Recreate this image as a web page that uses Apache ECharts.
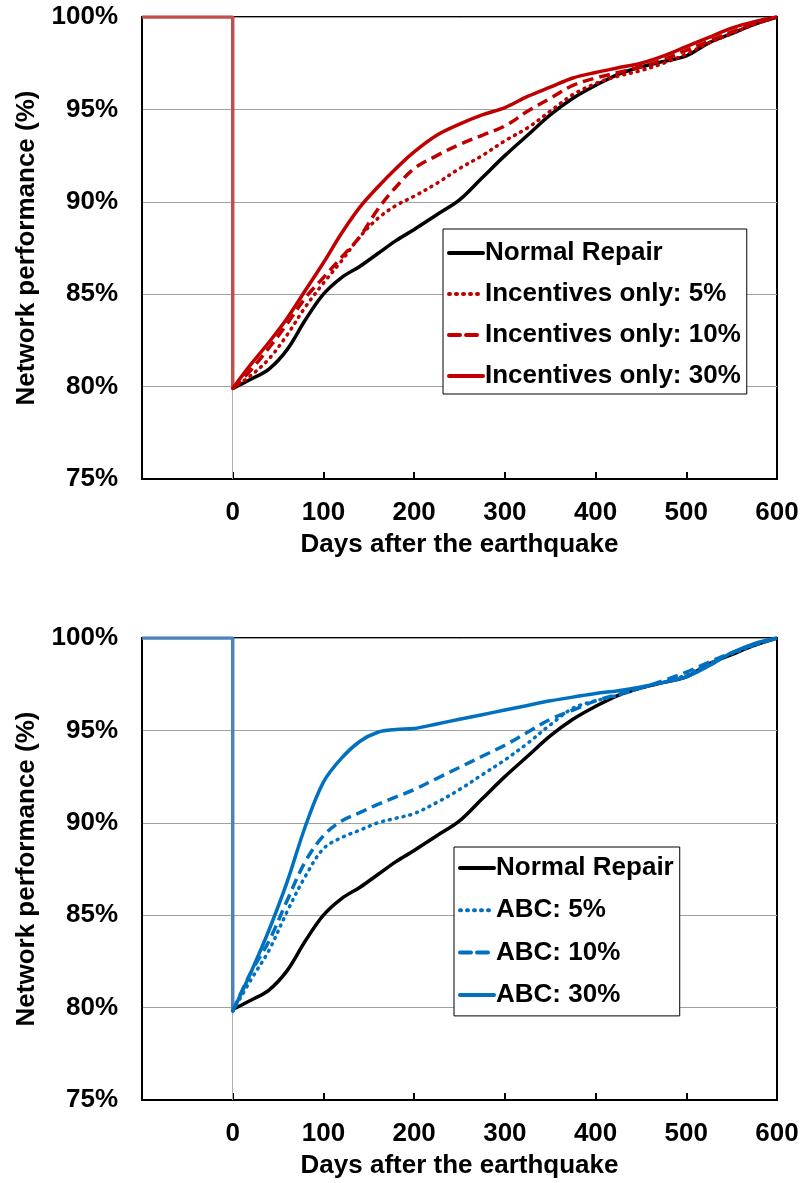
<!DOCTYPE html>
<html>
<head>
<meta charset="utf-8">
<script src="https://cdn.jsdelivr.net/npm/echarts@6/dist/echarts.min.js"></script>
<style>
html,body{margin:0;padding:0;background:#fff;}
#chart{width:802px;height:1183px;}
</style>
</head>
<body>
<div id="chart"></div>
<script>
// ---------- data ----------
var days = [0,20,40,60,80,100,120,140,160,180,200,225,250,275,300,325,350,375,400,425,450,475,500,525,550,575,600];
var normalRepair = [79.9,80.4,80.95,82.0,83.6,85.0,85.9,86.5,87.2,87.9,88.5,89.3,90.1,91.3,92.5,93.6,94.7,95.6,96.3,96.9,97.3,97.6,97.9,98.6,99.1,99.6,100];
var incentives5  = [79.9,80.6,81.5,82.8,84.3,85.6,86.8,88.1,89.1,89.8,90.3,91.0,91.8,92.5,93.3,94.0,94.9,95.8,96.4,96.8,97.1,97.5,98.0,98.6,99.1,99.6,100];
var incentives10 = [79.9,80.9,82.1,83.4,84.8,85.9,87.0,88.1,89.6,90.8,91.8,92.5,93.1,93.6,94.1,94.9,95.6,96.3,96.7,97.0,97.3,97.7,98.2,98.7,99.2,99.65,100];
var incentives30 = [79.9,81.2,82.4,83.7,85.2,86.7,88.3,89.7,90.8,91.8,92.7,93.6,94.2,94.7,95.1,95.7,96.2,96.7,97.0,97.25,97.5,97.9,98.4,98.9,99.4,99.75,100];
var abc5  = [79.8,81.5,83.1,85.2,87.1,88.6,89.2,89.6,90.0,90.25,90.5,91.1,91.8,92.6,93.4,94.3,95.3,96.2,96.6,96.9,97.3,97.6,98.0,98.6,99.15,99.6,100];
var abc10 = [79.8,81.9,83.6,85.8,87.9,89.3,90.1,90.55,91.0,91.4,91.8,92.4,93.0,93.6,94.2,94.9,95.6,96.1,96.6,96.95,97.3,97.7,98.15,98.7,99.2,99.65,100];
var abc30 = [79.8,81.9,84.2,86.8,89.8,92.2,93.5,94.4,94.9,95.05,95.1,95.35,95.6,95.85,96.1,96.35,96.6,96.8,97.0,97.15,97.35,97.6,97.9,98.5,99.2,99.7,100];
var preDays = [-100,0,0];
var preTop = [100,100,79.9];
var preBottom = [100,100,79.8];
var yTicks = [75,80,85,90,95,100];
var xTicks = [0,100,200,300,400,500,600];
var namesTop = ['Normal Repair','Incentives only: 5%','Incentives only: 10%','Incentives only: 30%'];
var namesBottom = ['Normal Repair','ABC: 5%','ABC: 10%','ABC: 30%'];

function zip(xs, ys){ return xs.map(function(x,i){ return [x, ys[i]]; }); }

var FONT = "'Liberation Sans', Arial, sans-serif";
var txt = {fontFamily: FONT, fontWeight: 'bold', fontSize: 26, color: '#000'};

function xAxisCfg(gi){
  return {
    type: 'value', gridIndex: gi, min: -100, max: 600, interval: 100,
    name: 'Days after the earthquake', nameLocation: 'middle', nameGap: 53,
    nameTextStyle: txt,
    axisLine: {show: true, onZero: false, lineStyle: {color: '#000', width: 2}},
    axisTick: {show: true, inside: true, length: 7, lineStyle: {color: '#000', width: 2}},
    axisLabel: Object.assign({margin: 21, formatter: function(v){ return xTicks.indexOf(v) >= 0 ? String(v) : ''; }}, txt),
    splitLine: {show: false}
  };
}
function yAxisCfg(gi){
  return {
    type: 'value', gridIndex: gi, min: 75, max: 100, interval: 5,
    name: 'Network performance (%)', nameLocation: 'middle', nameGap: 102,
    nameTextStyle: txt,
    axisLine: {show: true, onZero: false, lineStyle: {color: '#000', width: 2}},
    axisTick: {show: false},
    axisLabel: Object.assign({margin: 24, formatter: function(v){ return yTicks.indexOf(v) >= 0 ? v + '%' : ''; }}, txt),
    splitLine: {show: true, lineStyle: {color: '#a0a0a0', width: 1}}
  };
}

function curves(gi, names, vals, color, preColor, preVals){
  var s = [];
  s.push({
    type: 'line', xAxisIndex: gi, yAxisIndex: gi, data: zip(preDays, preVals),
    showSymbol: false, symbol: 'none', lineStyle: {color: preColor, width: 3.5}, z: 3, silent: true,
    markLine: {silent: true, symbol: 'none', label: {show: false},
      lineStyle: {color: '#b0b0b0', width: 1, type: 'solid'}, data: [{xAxis: 0}], z: 1}
  });
  var types = ['solid', [1, 6], [11, 6], 'solid'];
  var colors = ['#000', color, color, color];
  for (var i = 0; i < 4; i++){
    s.push({
      name: names[i], type: 'line', xAxisIndex: gi, yAxisIndex: gi,
      data: zip(days, vals[i]), smooth: 0.35, showSymbol: false, symbol: 'none',
      color: colors[i],
      lineStyle: {color: colors[i], width: 3.5, type: types[i], cap: i === 1 ? 'round' : 'butt'},
      z: 4 + (i === 0 ? 0 : (4 - i))
    });
  }
  return s;
}

var legendBase = {
  orient: 'vertical', itemWidth: 34, itemHeight: 25,
  backgroundColor: '#fff', borderColor: '#000', borderWidth: 1, borderRadius: 0,
  itemStyle: {color: 'transparent', borderWidth: 0, opacity: 0},
  lineStyle: {width: 4, cap: 'round'},
  textStyle: {fontFamily: FONT, fontWeight: 'bold', fontSize: 26, color: '#000', lineHeight: 25, padding: [0,0,0,-3]}
};

var option = {
  animation: false,
  backgroundColor: '#fff',
  grid: [
    {left: 142, top: 17, width: 635, height: 462, show: true, borderColor: '#000', borderWidth: 2, backgroundColor: 'transparent'},
    {left: 142, top: 638, width: 635, height: 462, show: true, borderColor: '#000', borderWidth: 2, backgroundColor: 'transparent'}
  ],
  xAxis: [xAxisCfg(0), xAxisCfg(1)],
  yAxis: [yAxisCfg(0), yAxisCfg(1)],
  legend: [
    Object.assign({}, legendBase, {left: 443, top: 229, itemGap: 15, padding: [11, 6, 5, 4], data: namesTop}),
    Object.assign({}, legendBase, {left: 454, top: 847, itemGap: 16.3, padding: [8, 6, 8, 4], data: namesBottom})
  ],
  series: [].concat(
    curves(0, namesTop, [normalRepair, incentives5, incentives10, incentives30], '#C00000', '#C0504D', preTop),
    curves(1, namesBottom, [normalRepair, abc5, abc10, abc30], '#0070C0', '#4F81BD', preBottom)
  )
};

var chart = echarts.init(document.getElementById('chart'), null, {renderer: 'canvas'});
chart.setOption(option);
</script>
</body>
</html>
